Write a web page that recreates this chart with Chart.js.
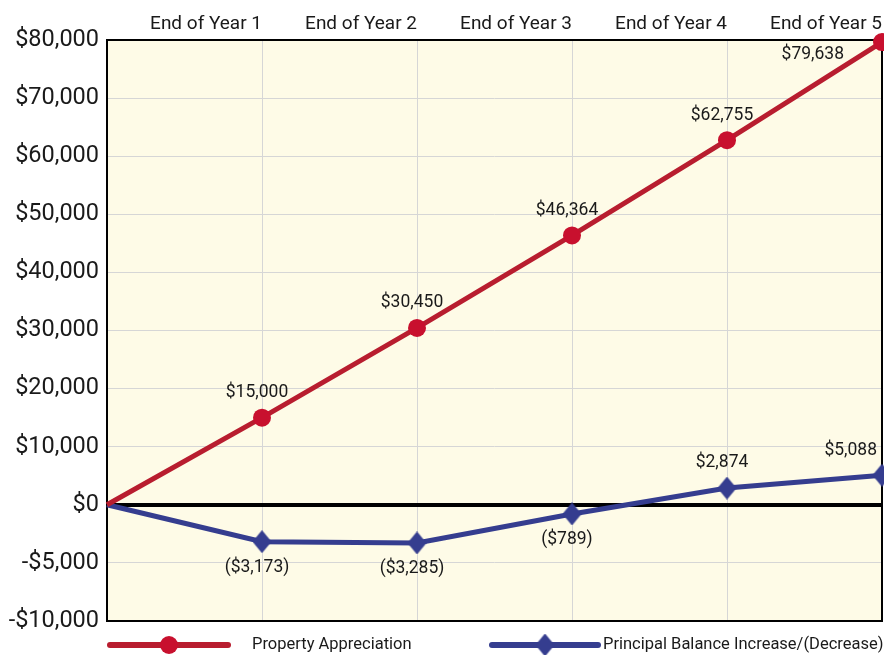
<!DOCTYPE html>
<html>
<head>
<meta charset="utf-8">
<script src="https://cdn.jsdelivr.net/npm/chart.js@4.4.1/dist/chart.umd.min.js"></script>
<style>
  html, body { margin: 0; padding: 0; background: #fff; overflow: hidden; }
  #wrap { width: 884px; height: 655px; position: relative; }
</style>
</head>
<body>
<div id="wrap"><canvas id="myChart"></canvas></div>
<script>
const years = ['', 'End of Year 1', 'End of Year 2', 'End of Year 3', 'End of Year 4', 'End of Year 5'];
const appreciation = [0, 15000, 30450, 46364, 62755, 79638];
const principal = [0, -3173, -3285, -789, 2874, 5088];
const yTicks = [80000, 70000, 60000, 50000, 40000, 30000, 20000, 10000, 0, -5000, -10000];
const seriesNames = ['Property Appreciation', 'Principal Balance Increase/(Decrease)'];

const FONT = "Roboto, 'Liberation Sans', sans-serif";
const RED = '#b81d2f', RED_PT = '#c8102e', BLUE = '#353d8f';

// below zero the axis runs at half the scale (5,000 per gridline instead of 10,000)
const NEG_STRETCH = 2;
const stretch = v => (v < 0 ? v * NEG_STRETCH : v);

class SplitScale extends Chart.LinearScale {
  buildTicks() {
    return yTicks.map(v => ({ value: v }));
  }
  configure() {
    super.configure();
    this._startValue = stretch(this.min);
    this._valueRange = this.max - this._startValue;
  }
  getPixelForValue(value) {
    return super.getPixelForValue(stretch(value));
  }
  getValueForPixel(pixel) {
    const v = super.getValueForPixel(pixel);
    return v < 0 ? v / NEG_STRETCH : v;
  }
}
SplitScale.id = 'split';
SplitScale.defaults = Chart.LinearScale.defaults;
Chart.register(SplitScale);

// tall diamond marker
const diamond = document.createElement('canvas');
diamond.width = 19; diamond.height = 23;
(function() {
  const c = diamond.getContext('2d');
  c.fillStyle = BLUE;
  c.beginPath();
  c.moveTo(9.5, 0); c.lineTo(19, 11.5); c.lineTo(9.5, 23); c.lineTo(0, 11.5);
  c.closePath();
  c.fill();
})();
const markers = ['circle', diamond];

const money = v => '$' + Math.abs(v).toLocaleString('en-US');

const plotFrame = {
  id: 'plotFrame',
  beforeDraw(chart) {
    const { ctx, chartArea: a } = chart;
    ctx.save();
    ctx.fillStyle = '#fefbe7';
    ctx.fillRect(a.left, a.top, a.right - a.left, a.bottom - a.top);
    ctx.restore();
  },
  beforeDatasetsDraw(chart) {
    const { ctx, chartArea: a } = chart;
    ctx.save();
    ctx.strokeStyle = '#000';
    ctx.lineWidth = 2;
    ctx.strokeRect(a.left, a.top, a.right - a.left, a.bottom - a.top);
    ctx.restore();
  }
};

const pointLabels = {
  id: 'pointLabels',
  afterDatasetsDraw(chart) {
    const { ctx, chartArea } = chart;
    ctx.save();
    ctx.font = '17.5px ' + FONT;
    ctx.fillStyle = '#1a1a1a';
    ctx.textBaseline = 'middle';
    ctx.textAlign = 'center';
    chart.data.datasets.forEach((ds, di) => {
      chart.getDatasetMeta(di).data.forEach((pt, i) => {
        if (i === 0) return;
        const v = ds.data[i];
        const text = v < 0 ? '(' + money(v) + ')' : money(v);
        const w = ctx.measureText(text).width;
        let x = pt.x - 5;
        let y = v < 0 ? pt.y + 26 : pt.y - 25;
        if (y - 8 < chartArea.top) {
          // no room above the top point: tuck it in to the left, just below
          x = pt.x - 38 - w / 2;
          y = pt.y + 13;
        } else if (x + w / 2 > chartArea.right - 5) {
          x = chartArea.right - 5 - w / 2;
        }
        ctx.fillText(text, x, y);
      });
    });
    ctx.restore();
  }
};

const legendStrip = {
  id: 'legendStrip',
  afterDraw(chart) {
    const { ctx } = chart;
    const y = 645;
    const spots = [{ x1: 110, x2: 228, tx: 252 }, { x1: 492, x2: 598, tx: 603 }];
    ctx.save();
    chart.data.datasets.forEach((ds, di) => {
      const s = spots[di];
      ctx.strokeStyle = ds.borderColor;
      ctx.lineWidth = 6;
      ctx.lineCap = 'round';
      ctx.beginPath();
      ctx.moveTo(s.x1, y); ctx.lineTo(s.x2, y);
      ctx.stroke();
      ctx.fillStyle = ds.pointBackgroundColor;
      Chart.helpers.drawPoint(ctx, { pointStyle: markers[di], radius: 9, rotation: 0, borderWidth: 0 }, (s.x1 + s.x2) / 2, y);
      ctx.fillStyle = '#1a1a1a';
      ctx.font = '16.5px ' + FONT;
      ctx.textBaseline = 'middle';
      ctx.textAlign = 'left';
      ctx.fillText(ds.label, s.tx, y);
    });
    ctx.restore();
  }
};

new Chart(document.getElementById('myChart'), {
  type: 'line',
  data: {
    labels: years,
    datasets: [
      {
        label: seriesNames[0],
        data: appreciation,
        borderColor: RED,
        borderWidth: 5,
        pointBackgroundColor: RED_PT,
        pointBorderWidth: 0,
        pointStyle: c => (c.dataIndex === 0 ? false : markers[0]),
        pointRadius: c => (c.dataIndex === 0 ? 0 : 9),
        tension: 0,
        clip: false
      },
      {
        label: seriesNames[1],
        data: principal,
        borderColor: BLUE,
        borderWidth: 5,
        pointBackgroundColor: BLUE,
        pointBorderWidth: 0,
        pointStyle: c => (c.dataIndex === 0 ? false : markers[1]),
        pointRadius: c => (c.dataIndex === 0 ? 0 : 10),
        tension: 0,
        clip: false
      }
    ]
  },
  options: {
    responsive: true,
    maintainAspectRatio: false,
    devicePixelRatio: 1,
    animation: false,
    events: [],
    layout: { autoPadding: false, padding: { top: 0, left: 0, right: 2, bottom: 34 } },
    plugins: {
      legend: { display: false },
      tooltip: { enabled: false },
      title: { display: false }
    },
    scales: {
      x: {
        type: 'category',
        position: 'top',
        offset: false,
        grid: { color: '#d6d6d6', lineWidth: 1, drawTicks: false },
        border: { display: false },
        ticks: { font: { family: FONT, size: 19 }, color: '#1a1a1a', padding: 4, align: 'end', maxRotation: 0, autoSkip: false },
        afterFit: s => { s.height = 40; s.paddingLeft = 0; s.paddingRight = 0; }
      },
      y: {
        type: 'split',
        min: -10000,
        max: 80000,
        grid: {
          color: c => (c.tick && c.tick.value === 0 ? '#000' : '#d6d6d6'),
          lineWidth: c => (c.tick && c.tick.value === 0 ? 4 : 1),
          drawTicks: false
        },
        border: { display: false },
        ticks: {
          font: { family: FONT, size: 23.5 },
          color: '#1a1a1a',
          padding: 8,
          autoSkip: false,
          callback: v => (v < 0 ? '-' : '') + money(v)
        },
        afterFit: s => { s.width = 107; s.paddingTop = 0; s.paddingBottom = 0; }
      }
    }
  },
  plugins: [plotFrame, pointLabels, legendStrip]
});
</script>
</body>
</html>
